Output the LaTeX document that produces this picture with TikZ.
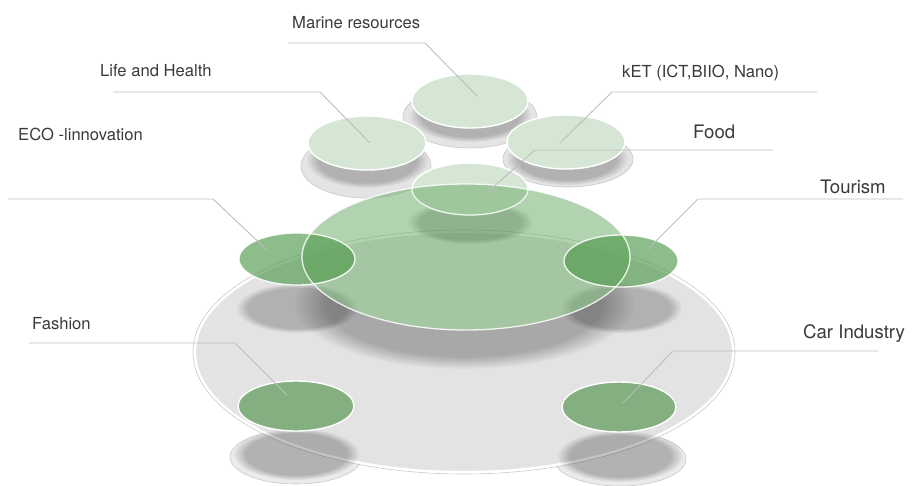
\documentclass[tikz,border=0pt]{standalone}
\usepackage{fontspec}
\setmainfont{TeX Gyre Heros}
\usetikzlibrary{fadings}

\definecolor{palegreen}{HTML}{D6E6D5}
\definecolor{biggreen}{HTML}{6FAE6B}
\definecolor{midgreen}{HTML}{4F9A4B}
\definecolor{lowgreen}{HTML}{84AF80}
\definecolor{basegray}{HTML}{E3E3E3}
\definecolor{dishgray}{HTML}{E4E4E4}
\definecolor{rimgray}{HTML}{C9C9C9}
\definecolor{leadgray}{HTML}{BDBDBD}
\definecolor{txtgray}{HTML}{3A3A3A}

\tikzset{
  leader/.style={draw=leadgray, line width=0.9},
  lbl/.style={anchor=base west, text=txtgray, inner sep=0pt, font=\fontsize{16.6}{20}\selectfont},
  lblbig/.style={lbl, font=\fontsize{18.6}{22}\selectfont},
  softshadow/.style={fill=black, fill opacity=#1, path fading=circle with fuzzy edge 20 percent},
  softshadow/.default=0.22,
  dish/.style={fill=dishgray, draw=rimgray, line width=0.6},
  topdisc/.style={fill=palegreen, draw=white, line width=1.4},
  lowdisc/.style={fill=lowgreen, draw=white, line width=1.4},
  middisc/.style={fill=midgreen, fill opacity=0.65, draw=white, draw opacity=0.9, line width=1.3},
  bump/.style={fill=white!92!black, draw=rimgray, line width=0.6},
}

\begin{document}
\begin{tikzpicture}[x=1pt, y=-1pt]
\useasboundingbox (0,0) rectangle (913,485);

% ---------- upper cluster: dishes under the three light discs ----------
\path[dish] (366,166) ellipse (65 and 32);
\path[dish] (568,159) ellipse (65 and 28);
\path[dish] (470,117) ellipse (67 and 31);
\path[softshadow=0.22] (367,160) ellipse (61 and 28);
\path[softshadow=0.22] (470,115) ellipse (61 and 27);
\path[softshadow=0.22] (567,158) ellipse (61 and 27);
\path[topdisc] (367,143) ellipse (59 and 27);
\path[topdisc] (566,142) ellipse (59 and 27);
\path[topdisc] (470,101) ellipse (58 and 27);

% ---------- base platter ----------
\path[bump] (296,457) ellipse (66 and 27);
\path[bump] (620,459) ellipse (66 and 27);
\path[fill=basegray] (464,352) ellipse (269 and 120);
\draw[rimgray, line width=0.6] (464,352) ellipse (271 and 122);
\draw[white, line width=2.2] (464,352) ellipse (269 and 120);

% ---------- shadows cast on the platter ----------
\path[softshadow=0.24] (296,454) ellipse (63 and 26);
\path[softshadow=0.24] (620,456) ellipse (63 and 26);
\path[softshadow=0.22] (297,308) ellipse (61 and 25);
\path[softshadow=0.22] (621,308) ellipse (61 and 25);
\begin{scope}[even odd rule]
  \clip (0,0) rectangle (913,485) (466,257) ellipse (164 and 73);
  \path[softshadow=0.26] (464,304) ellipse (170 and 65);
\end{scope}
\path[softshadow=0.28] (470,222) ellipse (63 and 22);

% ---------- lower discs ----------
\path[lowdisc] (296,406) ellipse (58 and 25);
\path[lowdisc] (619,407) ellipse (57 and 25);

% ---------- food disc and the large translucent disc ----------
\path[topdisc] (470,189) ellipse (58 and 26);
\path[fill=biggreen, fill opacity=0.54] (466,257) ellipse (164 and 73);
\draw[white, opacity=0.8, line width=1.2] (470,189) ellipse (58 and 26);

% ---------- middle discs ----------
\path[middisc] (297,259) ellipse (58 and 26);
\path[middisc] (621,261) ellipse (57 and 26);
\draw[white, opacity=0.85, line width=1.3] (466,257) ellipse (164 and 73);

% ---------- labels ----------
\node[lbl] (tMarine) at (292,28) {Marine resources};
\node[lbl] (tLife) at (100,76) {Life and Health};
\node[lbl] (tKet) at (622,77) {kET (ICT,BIIO, Nano)};
\node[lblbig] (tFood) at (693,138) {Food};
\node[lbl] (tEco) at (18,140) {ECO -linnovation};
\node[lblbig] (tTour) at (820,193) {Tourism};
\node[lbl] (tFash) at (32,329) {Fashion};
\node[lblbig] (tCar) at (803,338) {Car Industry};

% ---------- leader lines ----------
\coordinate (mS) at (288,43);  \coordinate (mK) at (425,43);  \coordinate (mT) at (477,96);
\coordinate (lS) at (113,92);  \coordinate (lK) at (320,92);  \coordinate (lT) at (370,143);
\coordinate (kS) at (817,92);  \coordinate (kK) at (612,92);  \coordinate (kT) at (560,143);
\coordinate (fS) at (773,150); \coordinate (fK) at (535,150); \coordinate (fT) at (482,197);
\coordinate (eS) at (8,199);   \coordinate (eK) at (213,199); \coordinate (eT) at (267,250);
\coordinate (tS) at (903,199); \coordinate (tK) at (698,199); \coordinate (tT) at (647,250);
\coordinate (aS) at (29,343);  \coordinate (aK) at (235,343); \coordinate (aT) at (287,395);
\coordinate (cS) at (878,351); \coordinate (cK) at (673,351); \coordinate (cT) at (623,403);

\draw[leader] (mS) -- (mK) -- (mT);
\draw[leader] (lS) -- (lK) -- (lT);
\draw[leader] (kS) -- (kK) -- (kT);
\draw[leader] (fS) -- (fK) -- (fT);
\draw[leader] (eS) -- (eK) -- (eT);
\draw[leader] (tS) -- (tK) -- (tT);
\draw[leader] (aS) -- (aK) -- (aT);
\draw[leader] (cS) -- (cK) -- (cT);
\end{tikzpicture}
\end{document}
